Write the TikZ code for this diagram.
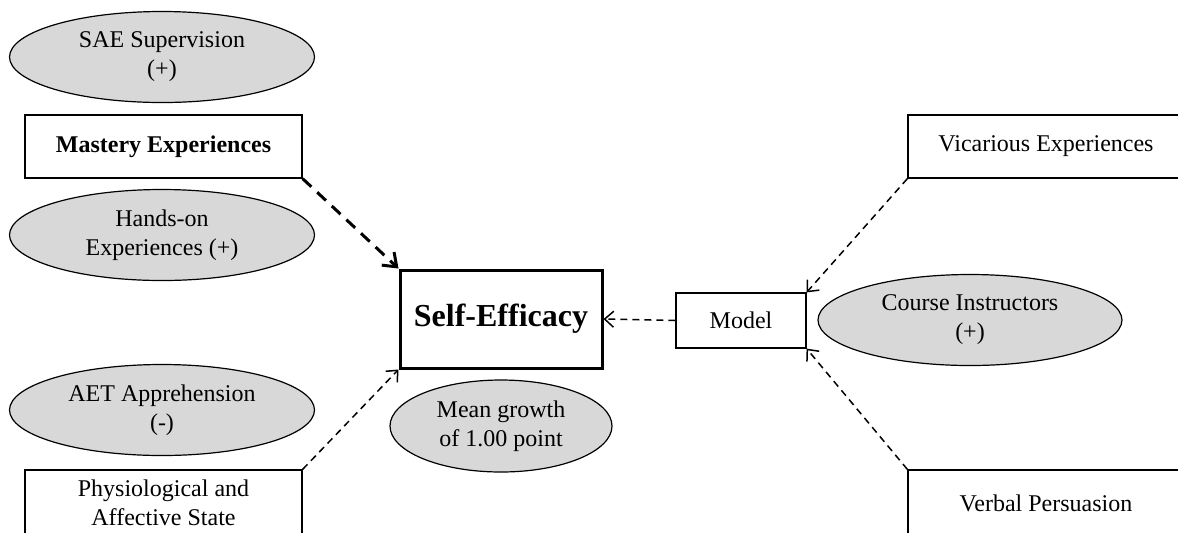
\documentclass[tikz,border=0pt]{standalone}
\usepackage{fontspec}
\setmainfont{Liberation Serif}
\usetikzlibrary{shapes.geometric,arrows.meta}
\definecolor{ovalgray}{RGB}{216,216,216}

\begin{document}
\begin{tikzpicture}[x=0.5pt,y=-0.5pt,
    every node/.style={font=\fontsize{12pt}{14.5pt}\selectfont,align=center,inner sep=0pt},
    oval/.style={ellipse,draw,line width=0.6pt,fill=ovalgray,minimum width=152.5pt,minimum height=45.5pt},
    source/.style={rectangle,draw,line width=0.6pt,fill=white,minimum width=138.5pt,minimum height=31.5pt},
    link/.style={line width=0.75pt,dash pattern=on 3.5pt off 2.5pt,-{Straight Barb[length=4.5pt,width=8pt]}}]
    % Rahmen
    \useasboundingbox (0,0) rectangle (1178,532);
    \clip (0,0) rectangle (1178,532);

    % linke Seite
    \node[oval] (sae) at (162,57) {SAE Supervision\\(+)};
    \node[source] (mastery) at (163.5,146.5) {\bfseries Mastery Experiences};
    \node[oval] (handson) at (162,235) {Hands-on\\Experiences (+)};
    \node[oval] (aet) at (162,410) {AET Apprehension\\(-)};
    \node[source,minimum height=33pt] (physio) at (163.5,503) {Physiological and\\Affective State};

    % Mitte
    \node[rectangle,draw,line width=1.5pt,minimum width=101pt,minimum height=49pt,
          font=\fontsize{16pt}{19pt}\selectfont\bfseries] (selfeff) at (501,319) {Self-Efficacy};
    \node[oval,minimum width=111pt,minimum height=46pt] (growth) at (501,426) {Mean growth\\of 1.00 point};

    % rechte Seite
    \node[rectangle,draw,line width=0.6pt,minimum width=65pt,minimum height=27.5pt] (model) at (741,320.5) {Model};
    \node[oval,minimum width=152pt] (course) at (970,320) {Course Instructors\\(+)};
    \node[source,minimum width=138pt] (vicarious) at (1046,146.5) {Vicarious Experiences};
    \node[source,minimum width=138pt,minimum height=33pt] (verbal) at (1046,503) {Verbal Persuasion};

    % Pfeile
    \draw[link,line width=1.5pt,dash pattern=on 6pt off 4pt,
          -{Straight Barb[length=6pt,width=9pt]}] (mastery.south east) -- (selfeff.north west);
    \draw[link] (physio.north east) -- (selfeff.south west);
    \draw[link] (model.west) -- (selfeff.east);
    \draw[link] (vicarious.south west) -- (model.north east);
    \draw[link] (verbal.north west) -- (model.south east);
\end{tikzpicture}
\end{document}
